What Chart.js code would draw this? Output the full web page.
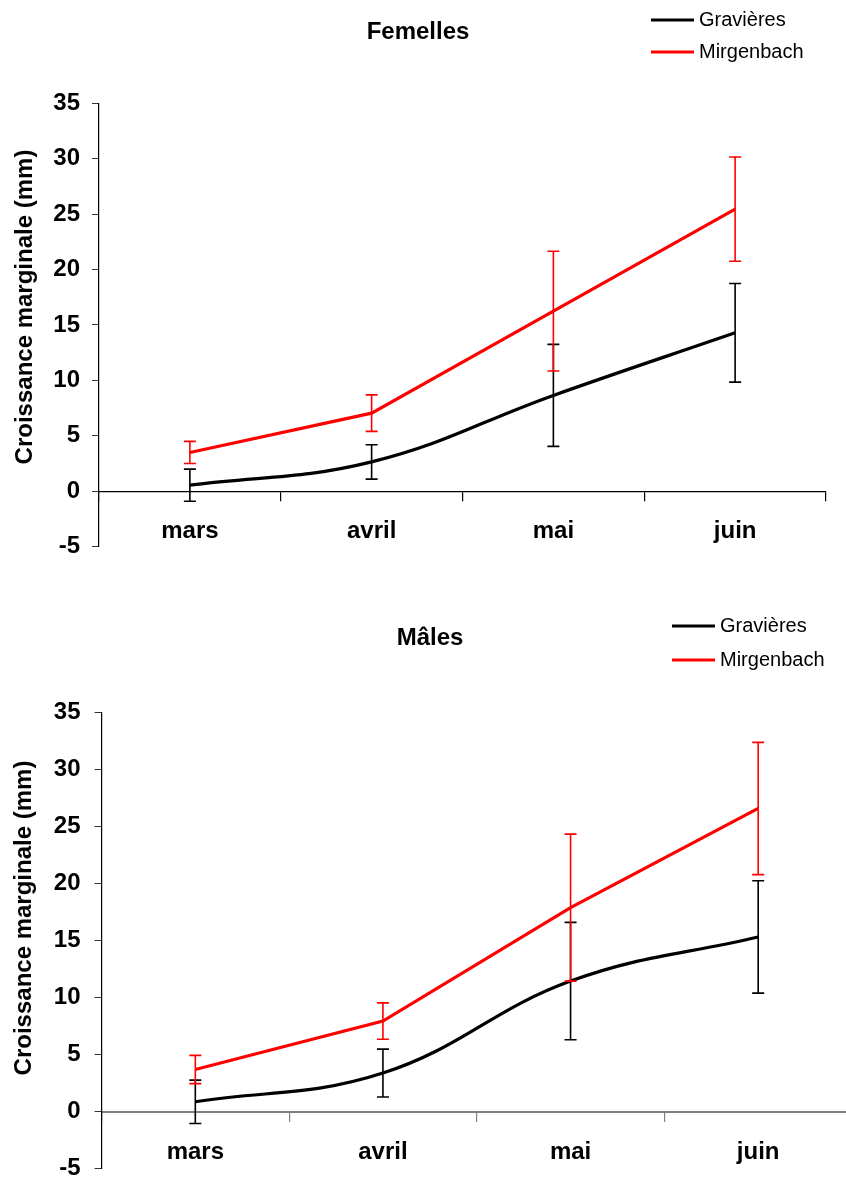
<!DOCTYPE html>
<html>
<head>
<meta charset="utf-8">
<script src="https://cdn.jsdelivr.net/npm/chart.js@4.4.0/dist/chart.umd.min.js"></script>
<style>
html, body { margin: 0; padding: 0; background: #fff; overflow: hidden; width: 846px; height: 1178px; }
#fem { position: absolute; left: 0; top: 0; }
#mal { position: absolute; left: 0; top: 590px; }
</style>
</head>
<body>
<canvas id="fem" width="846" height="590"></canvas>
<canvas id="mal" width="870" height="600"></canvas>
<script>
// data
var months = ['mars', 'avril', 'mai', 'juin'];
var yTickValues = [-5, 0, 5, 10, 15, 20, 25, 30, 35];
var seriesNames = ['Gravières', 'Mirgenbach'];
var yTitle = 'Croissance marginale (mm)';

var femGravieres = [0.55, 2.65, 8.65, 14.3];
var femGravieresErr = [1.45, 1.55, 4.6, 4.45];
var femMirgenbach = [3.5, 7.05, 16.25, 25.45];
var femMirgenbachErr = [1.0, 1.65, 5.4, 4.7];

var malGravieres = [0.87, 3.39, 11.46, 15.33];
var malGravieresErr = [1.9, 2.1, 5.15, 4.93];
var malMirgenbach = [3.7, 7.95, 17.9, 26.6];
var malMirgenbachErr = [1.24, 1.6, 6.45, 5.8];

var fontFamily = '"Liberation Sans", Arial, sans-serif';

// vertical error bars, drawn through the y scale
var errorBarsPlugin = {
    id: 'errorBars',
    afterDatasetsDraw: function(chart) {
        var ctx = chart.ctx;
        var yScale = chart.scales.y;
        chart.data.datasets.forEach(function(ds, i) {
            var meta = chart.getDatasetMeta(i);
            ctx.save();
            ctx.strokeStyle = ds.borderColor;
            ctx.lineWidth = 1.6;
            meta.data.forEach(function(pt, j) {
                var top = yScale.getPixelForValue(ds.data[j] + ds.errors[j]);
                var bot = yScale.getPixelForValue(ds.data[j] - ds.errors[j]);
                ctx.beginPath();
                ctx.moveTo(pt.x, top); ctx.lineTo(pt.x, bot);
                ctx.moveTo(pt.x - 6, top); ctx.lineTo(pt.x + 6, top);
                ctx.moveTo(pt.x - 6, bot); ctx.lineTo(pt.x + 6, bot);
                ctx.stroke();
            });
            ctx.restore();
        });
    }
};

// title, legend and y title placed like the original
var decorPlugin = {
    id: 'decor',
    afterDraw: function(chart, args, opts) {
        var ctx = chart.ctx;
        ctx.save();
        ctx.fillStyle = '#000';
        ctx.textBaseline = 'alphabetic';

        ctx.font = 'bold 24px ' + fontFamily;
        ctx.textAlign = 'center';
        ctx.fillText(opts.title, opts.titleX, opts.titleY);

        // legend
        ctx.font = '20px ' + fontFamily;
        ctx.textAlign = 'left';
        chart.data.datasets.forEach(function(ds, i) {
            var ly = opts.legendY[i];
            ctx.strokeStyle = ds.borderColor;
            ctx.lineWidth = 3;
            ctx.beginPath();
            ctx.moveTo(opts.legendX, ly);
            ctx.lineTo(opts.legendX + opts.legendLen, ly);
            ctx.stroke();
            ctx.fillText(ds.label, opts.legendX + opts.legendLen + 5, ly + 5.5);
        });

        // rotated axis title
        ctx.font = 'bold 24px ' + fontFamily;
        ctx.textAlign = 'center';
        ctx.translate(opts.yTitleX, opts.yTitleY);
        ctx.rotate(-Math.PI / 2);
        ctx.fillText(yTitle, 0, 0);
        ctx.restore();
    }
};

function buildChart(id, title, grav, gravErr, mirg, mirgErr, box) {
    var ctx = document.getElementById(id).getContext('2d');
    return new Chart(ctx, {
        type: 'line',
        data: {
            labels: months,
            datasets: [{
                label: seriesNames[0],
                data: grav,
                errors: gravErr,
                borderColor: '#000000',
                borderWidth: 3.2,
                tension: 0.4,
                pointRadius: 0,
                fill: false
            }, {
                label: seriesNames[1],
                data: mirg,
                errors: mirgErr,
                borderColor: '#ff0000',
                borderWidth: 3.2,
                tension: 0,
                pointRadius: 0,
                fill: false
            }]
        },
        options: {
            responsive: false,
            animation: false,
            layout: { padding: { top: box.top, bottom: box.bottom, left: 0, right: box.right } },
            plugins: {
                legend: { display: false },
                tooltip: { enabled: false },
                decor: {
                    title: title,
                    titleX: box.titleX, titleY: box.titleY,
                    legendX: box.legendX, legendLen: box.legendLen, legendY: box.legendY,
                    yTitleX: box.yTitleX, yTitleY: box.yTitleY
                }
            },
            scales: {
                x: {
                    type: 'category',
                    position: { y: 0 },
                    offset: true,
                    grid: { offset: true, drawOnChartArea: false, drawTicks: true, tickLength: 9, color: box.axisColor, lineWidth: 1.2 },
                    border: { display: true, color: box.axisColor, width: box.axisWidth },
                    ticks: {
                        color: '#000',
                        padding: 17,
                        maxRotation: 0,
                        autoSkip: false,
                        font: { family: fontFamily, size: 24, weight: 'bold' }
                    }
                },
                y: {
                    min: -5,
                    max: 35,
                    afterBuildTicks: function(scale) {
                        scale.ticks = yTickValues.map(function(v) { return { value: v }; });
                    },
                    afterFit: function(scale) {
                        scale.width = box.left;
                        scale.paddingTop = 0;
                        scale.paddingBottom = 0;
                    },
                    grid: { drawOnChartArea: false, drawTicks: true, tickLength: 7, color: '#333' },
                    border: { display: true, color: '#000', width: 1.2 },
                    ticks: {
                        color: '#000',
                        padding: box.tickPad,
                        font: { family: fontFamily, size: 24, weight: 'bold' }
                    }
                }
            }
        },
        plugins: [errorBarsPlugin, decorPlugin]
    });
}

function initCharts() {
    buildChart('fem', 'Femelles', femGravieres, femGravieresErr, femMirgenbach, femMirgenbachErr, {
        top: 103.3, bottom: 43.3, left: 99, right: 20, tickPad: 12,
        axisColor: '#000', axisWidth: 1.2,
        titleX: 418, titleY: 39,
        legendX: 651, legendLen: 43, legendY: [20, 52],
        yTitleX: 31.5, yTitleY: 307
    });
    buildChart('mal', 'Mâles', malGravieres, malGravieresErr, malMirgenbach, malMirgenbachErr, {
        top: 122.7, bottom: 21.3, left: 101.5, right: 18, tickPad: 14,
        axisColor: '#808080', axisWidth: 2,
        titleX: 430, titleY: 55,
        legendX: 672, legendLen: 43, legendY: [36, 70],
        yTitleX: 30.7, yTitleY: 328
    });
}
document.addEventListener('DOMContentLoaded', initCharts);
</script>
</body>
</html>
